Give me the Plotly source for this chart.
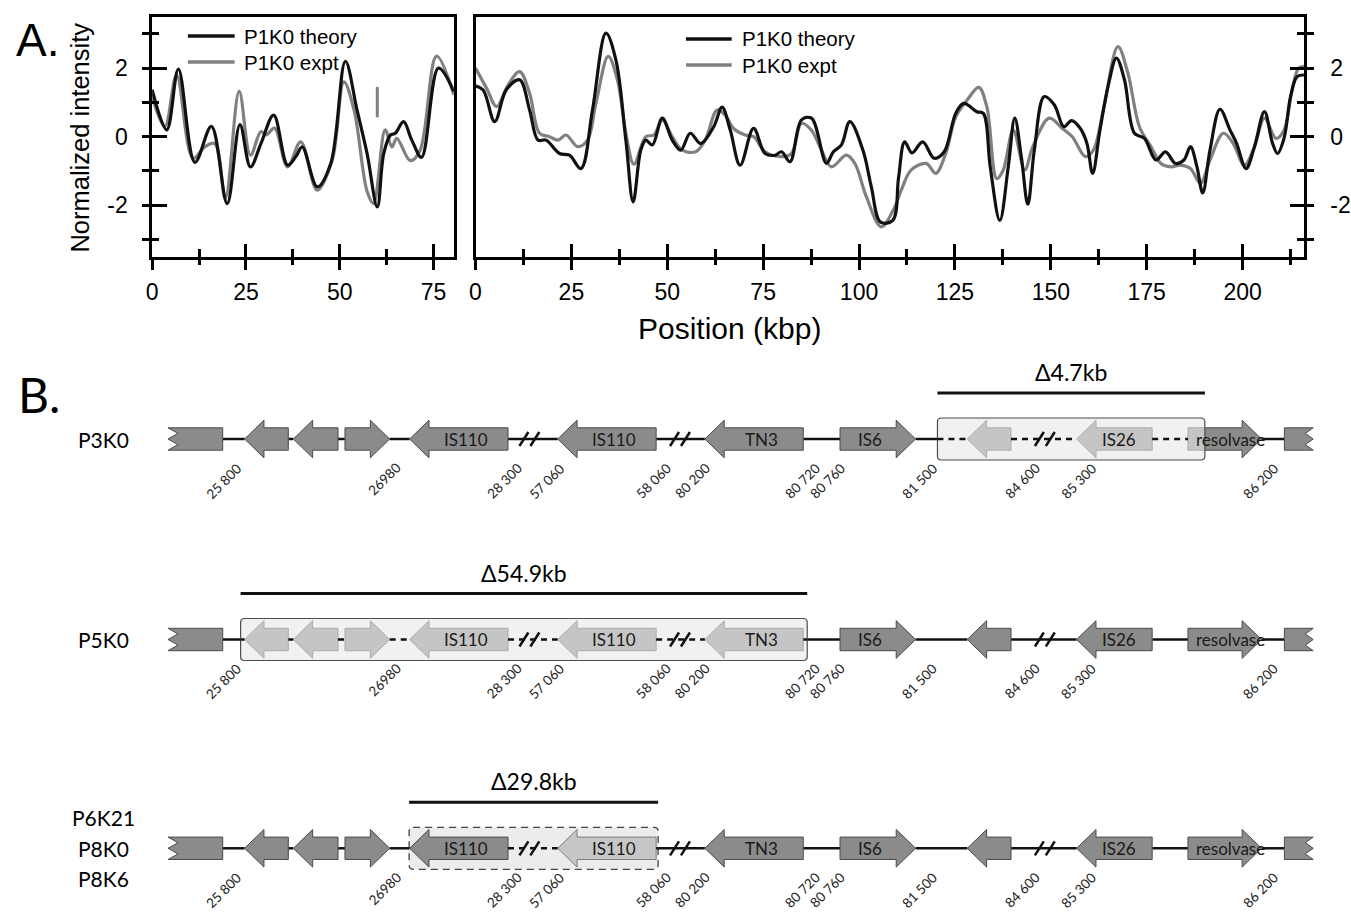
import plotly.graph_objects as go

W, H = 1351, 912

# ---------------- Panel A data (position in kbp, normalized intensity) ----------------
left_theory_x = [0, 3.9, 7.0, 11.4, 15.8, 20.0, 23.4, 26.2, 29.0, 32.4, 36.1, 38.3, 40.0, 44.0, 47.6,
                 51.5, 54.6, 57.3, 60.0, 61.7, 63.5, 64.8, 67.0, 69.2, 71.8, 76.3, 80.4]
left_theory_y = [1.37, 0.2, 1.97, -0.75, 0.3, -1.95, 0.35, -0.88, -0.2, 0.63, -0.83, -0.58, -0.3, -1.46, -0.78,
                 2.2, 0.78, -0.5, -2.05, -0.5, 0.05, 0.1, 0.44, -0.1, -0.6, 2.0, 1.32]

left_expt_x = [0, 3.4, 6.5, 10.9, 14.0, 16.7, 19.5, 23.2, 26.2, 29.0, 30.4, 32.6, 36.1, 39.6, 44.0,
               48.0, 51.1, 53.8, 57.3, 59.0, 62.1, 63.9, 65.2, 68.8, 71.4, 75.8, 80.4]
left_expt_y = [1.17, 0.3, 1.8, -0.63, -0.3, -0.2, -1.8, 1.32, -0.54, 0.15, 0.05, 0.25, -0.88, -0.15, -1.56,
               -0.68, 1.6, 0.78, -1.6, -1.95, 0.2, -0.3, -0.05, -0.7, -0.4, 2.35, 1.22]

right_theory_x = [0, 2, 5, 8, 11.5, 14.1, 16.3, 18.4, 21.9, 24.5, 27.5, 30.5, 34, 36.6, 39.2,
                  41.1, 43.1, 44.4, 46.1, 48.7, 51.3, 53.5, 56, 58.7, 62.1, 64.3, 66.4, 69, 72.5, 75.5,
                  78.1, 79.8, 82, 85, 87.6, 91.5, 93.3, 95.4, 97.6, 101, 103.2, 105.6, 108.8, 110.3, 111.9,
                  113.8, 116.6, 119.6, 122.2, 125.2, 127.3, 130.7, 132.4, 134.2, 136.7, 138.9, 140.6, 142.3, 144, 145.7,
                  148.3, 150.9, 153.4, 155.4, 157.7, 159.4, 160.9, 162.8, 165, 167.1, 169.2, 171.8, 174.4, 177.4, 179.9,
                  182.5, 184.7, 186.4, 188.1, 189.6, 191.5, 194.1, 196.7, 198.4, 200.9, 203.1, 205.7, 207.8, 209.1, 210.8,
                  212.5, 214.2, 216]
right_theory_y = [1.48, 1.36, 0.44, 1.36, 1.66, 0.78, -0.1, -0.1, -0.49, -0.54, -0.93, 0.78, 3.02, 2.24, -0.1,
                  -1.9, -0.39, -0.1, -0.24, 0.54, -0.1, -0.39, 0.1, -0.2, 0.29, 0.86, 0.2, -0.83, 0.24, -0.49,
                  -0.54, -0.44, -0.73, 0.49, 0.54, -0.78, -0.44, -0.24, 0.44, -0.39, -1.46, -2.49, -2.44, -1.2, -0.15,
                  -0.47, -0.15, -0.63, -0.44, 0.68, 0.97, 0.73, 0.68, -0.88, -2.44, -0.88, 0.54, -0.58, -1.97, -0.39,
                  1.17, 0.93, 0.29, 0.47, 0.24, -0.19, -1.07, 0.19, 1.51, 2.29, 1.66, 0.1, -0.05, -0.68, -0.44,
                  -0.78, -0.68, -0.29, -0.88, -1.64, -0.39, 0.8, 0.2, -0.19, -0.93, -0.29, 0.73, -0.19, -0.49, -0.05,
                  1.17, 1.75, 1.8]

right_expt_x = [0, 2.9, 5.5, 8.5, 11.5, 14.1, 16.7, 19.3, 21.5, 23.6, 26.6, 29.2, 31.4, 34.6, 37,
                39.2, 41.3, 44.4, 46.5, 48.7, 51.3, 53.9, 57.4, 59.9, 63, 65.1, 67.3, 70.3, 72.5, 75.5,
                79.8, 82.4, 85, 87.6, 90.2, 92.8, 96.7, 98.9, 101.9, 105.8, 109.3, 111, 113.6, 117.5, 120,
                122.6, 125.2, 128.2, 131.2, 133.3, 135.9, 137.6, 140.2, 143.2, 145.3, 149.6, 153, 155.6, 159, 161.1,
                163.7, 167.5, 170.1, 173.1, 176.1, 178.7, 181.3, 183.8, 186.4, 189, 191.5, 195, 197.5, 200.5, 203.1,
                205.7, 208.7, 210.8, 212.9, 214.6, 216]
right_expt_y = [2.0, 1.41, 0.88, 1.51, 1.9, 1.27, 0.1, 0, -0.1, 0.05, -0.29, -0.1, 0.97, 2.34, 1.66,
                0.1, -0.8, 0, 0.05, 0.49, 0, -0.39, -0.44, -0.1, 0.78, 0.63, 0.24, 0.05, 0, -0.44,
                -0.58, -0.49, 0.39, 0.19, -0.39, -0.88, -0.54, -0.78, -1.75, -2.63, -2.05, -1.56, -0.97, -0.78, -1.07,
                -0.49, 0.58, 1.07, 1.44, 0.88, -1.22, -0.97, 0.19, -0.97, -0.29, 0.54, 0.24, 0, -0.58, -0.39,
                0.78, 2.63, 1.85, 0.29, -0.29, -0.78, -0.88, -0.83, -0.93, -1.36, -0.68, 0.1, -0.19, -0.83, -0.29,
                0.54, -0.05, 0.19, 1.36, 2.0, 2.05]

mark_x = [60.0, 60.0]
mark_y = [0.57, 1.45]

series_names = ["P1K0 theory", "P1K0 expt"]
x_ticks_left = [0, 25, 50, 75]
y_ticks = [-2, 0, 2]
y_tick_text = ['-2', '0', '2']

# ---------------- Panel B data (schematic map units) ----------------
elem_start = [163, 240, 289, 341, 406, 555, 703, 839, 967, 1077, 1189, 1286]
elem_end = [218, 284, 334, 386, 505, 654, 802, 915, 1011, 1153, 1263, 1315]
elem_kind = ['cutL', 'L', 'L', 'R', 'L', 'L', 'L', 'R', 'L', 'L', 'R', 'cutR']
elem_label = ['', '', '', '', 'IS110', 'IS110', 'TN3', 'IS6', '', 'IS26', 'resolvase', '']
label_shift = [0, 0, 0, 0, -3, -3, -2, 2, 0, -5, 16, 0]

break_x = [526.5, 678, 1045]

coord_text = ['25 800', '26980', '28 300', '57 060', '58 060', '80 200',
              '80 720', '80 760', '81 500', '84 600', '85 300', '86 200']
coord_end = [241, 401, 523, 566, 673, 712, 823, 848, 941, 1044, 1101, 1284]

row_names = [['P3K0'], ['P5K0'], ['P6K21', 'P8K0', 'P8K6']]
row_center = [439, 639.5, 848.3]
del_start = [937, 236, 405.5]
del_end = [1206, 806, 656]
del_style = ['overlay', 'overlay', 'dashed']
del_text = ['Δ4.7kb', 'Δ54.9kb', 'Δ29.8kb']
row_light = [[], [], [5]]

# ---------------- figure ----------------
BLACK = '#111111'
GRAY = '#808080'
SANS = 'Liberation Sans, Arial, sans-serif'
MAP = 'Lato, Liberation Sans Narrow, sans-serif'


def px(x):
    return x / W


def py(y):
    return 1 - y / H


fig = go.Figure()

fig.add_trace(go.Scatter(x=left_expt_x, y=left_expt_y, mode='lines', name=series_names[1],
                         line=dict(color=GRAY, width=3.2, shape='spline', smoothing=1.0),
                         xaxis='x', yaxis='y', showlegend=False))
fig.add_trace(go.Scatter(x=left_theory_x, y=left_theory_y, mode='lines', name=series_names[0],
                         line=dict(color=BLACK, width=3.2, shape='spline', smoothing=1.0),
                         xaxis='x', yaxis='y', showlegend=False))
fig.add_trace(go.Scatter(x=mark_x, y=mark_y, mode='lines', line=dict(color=GRAY, width=3),
                         xaxis='x', yaxis='y', showlegend=False, hoverinfo='skip'))
fig.add_trace(go.Scatter(x=right_expt_x, y=right_expt_y, mode='lines', name=series_names[1],
                         line=dict(color=GRAY, width=3.2, shape='spline', smoothing=1.0),
                         xaxis='x2', yaxis='y2', showlegend=False))
fig.add_trace(go.Scatter(x=right_theory_x, y=right_theory_y, mode='lines', name=series_names[0],
                         line=dict(color=BLACK, width=3.2, shape='spline', smoothing=1.0),
                         xaxis='x2', yaxis='y2', showlegend=False))

# helper traces so overlay tick axes and schematic axes exist
for xa, ya in [('x4', 'y'), ('x', 'y5'), ('x6', 'y2'), ('x2', 'y7'), ('x3', 'y3')]:
    fig.add_trace(go.Scatter(x=[None], y=[None], xaxis=xa, yaxis=ya, showlegend=False, hoverinfo='skip'))

tickfont = dict(family=SANS, size=23, color='black')
base = dict(showgrid=False, zeroline=False, tickcolor='black', tickwidth=2.5)
y_dom = [py(256.7), py(16.7)]

layout_axes = dict(
    xaxis=dict(base, domain=[px(147), px(450.5)], range=[0, 80.4], anchor='y', showline=True,
               linecolor='black', linewidth=2.5, mirror=True, ticks='outside', ticklen=11,
               tickmode='array', tickvals=x_ticks_left, tickfont=tickfont, ticklabelstandoff=2,
               minor=dict(ticks='outside', tick0=0, dtick=12.5, ticklen=6, tickwidth=2.5, tickcolor='black')),
    xaxis4=dict(base, overlaying='x', anchor='y', range=[0, 80.4], ticks='inside', ticklen=13,
                tick0=0, dtick=25, showticklabels=False, showline=False,
                minor=dict(ticks='inside', tick0=0, dtick=12.5, ticklen=8, tickwidth=2.5, tickcolor='black')),
    yaxis=dict(base, domain=y_dom, range=[-3.5, 3.5], anchor='x', showline=True, linecolor='black',
               linewidth=2.5, mirror=True, ticks='outside', ticklen=7, tickmode='array', tickvals=y_ticks,
               ticktext=y_tick_text, tickfont=tickfont, ticklabelstandoff=10,
               minor=dict(ticks='outside', tick0=0, dtick=1, ticklen=7, tickwidth=2.5, tickcolor='black')),
    yaxis5=dict(base, overlaying='y', anchor='x', side='left', range=[-3.5, 3.5], ticks='inside',
                ticklen=15, tick0=0, dtick=2, showticklabels=False, showline=False,
                minor=dict(ticks='inside', tick0=0, dtick=1, ticklen=7, tickwidth=2.5, tickcolor='black')),
    xaxis2=dict(base, domain=[px(472.3), px(1305.7)], range=[0, 216], anchor='y2', showline=True,
                linecolor='black', linewidth=2.5, mirror=True, ticks='outside', ticklen=11,
                tick0=0, dtick=25, tickfont=tickfont, ticklabelstandoff=2,
                minor=dict(ticks='outside', tick0=0, dtick=12.5, ticklen=6, tickwidth=2.5, tickcolor='black')),
    xaxis6=dict(base, overlaying='x2', anchor='y2', range=[0, 216], ticks='inside', ticklen=13,
                tick0=0, dtick=25, showticklabels=False, showline=False,
                minor=dict(ticks='inside', tick0=0, dtick=12.5, ticklen=8, tickwidth=2.5, tickcolor='black')),
    yaxis2=dict(base, domain=y_dom, range=[-3.5, 3.5], anchor='x2', side='right', showline=True,
                linecolor='black', linewidth=2.5, mirror=True, ticks='outside', ticklen=7,
                tickmode='array', tickvals=y_ticks, ticktext=y_tick_text, tickfont=tickfont,
                ticklabelstandoff=12,
                minor=dict(ticks='outside', tick0=0, dtick=1, ticklen=7, tickwidth=2.5, tickcolor='black')),
    yaxis7=dict(base, overlaying='y2', anchor='x2', side='right', range=[-3.5, 3.5], ticks='inside',
                ticklen=14, tick0=0, dtick=2, showticklabels=False, showline=False,
                minor=dict(ticks='inside', tick0=0, dtick=1, ticklen=7, tickwidth=2.5, tickcolor='black')),
    xaxis3=dict(domain=[0, 1], range=[0, W], anchor='y3', visible=False, fixedrange=True),
    yaxis3=dict(domain=[0, 1], range=[H, 0], anchor='x3', visible=False, fixedrange=True),
)

shapes = []
annotations = []

# ---- panel A decorations (legends, titles) ----
for (lx0, lx1, ly0, tx), in [((183, 230, 36, 237),), ((684, 730, 39, 738),)]:
    for k, (col, nm) in enumerate([(BLACK, series_names[0]), (GRAY, series_names[1])]):
        yy = ly0 + 26 * k
        shapes.append(dict(type='line', xref='paper', yref='paper', x0=px(lx0), x1=px(lx1),
                           y0=py(yy), y1=py(yy), line=dict(color=col, width=3.5)))
        annotations.append(dict(xref='paper', yref='paper', x=px(tx), y=py(yy), text=nm, showarrow=False,
                                xanchor='left', yanchor='middle', font=dict(family=SANS, size=20.5, color='black')))

annotations += [
    dict(xref='paper', yref='paper', x=px(8), y=py(40), text='A.', showarrow=False, xanchor='left',
         yanchor='middle', font=dict(family=SANS, size=46, color='black')),
    dict(xref='paper', yref='paper', x=px(74), y=py(138), text='Normalized intensity', showarrow=False,
         textangle=-90, xanchor='center', yanchor='middle', font=dict(family=SANS, size=25.5, color='black')),
    dict(xref='paper', yref='paper', x=px(728), y=py(328), text='Position (kbp)', showarrow=False,
         xanchor='center', yanchor='middle', font=dict(family=SANS, size=30, color='black')),
    dict(xref='paper', yref='paper', x=px(10), y=py(394), text='B.', showarrow=False, xanchor='left',
         yanchor='middle', font=dict(family=MAP, size=48, color='black')),
]

# ---- panel B schematic ----
HH, BH, HL = 18.8, 11.2, 19.5
DARK_FILL, DARK_LINE = '#8b8b8b', '#4a4a4a'
LIGHT_FILL, LIGHT_LINE = '#c6c6c6', '#7d7d7d'


def arrow_path(x0, x1, kind, c):
    hl = min(HL, (x1 - x0) * 0.6)
    if kind == 'L':
        pts = [(x0, c), (x0 + hl, c - HH), (x0 + hl, c - BH), (x1, c - BH), (x1, c + BH),
               (x0 + hl, c + BH), (x0 + hl, c + HH)]
    elif kind == 'R':
        pts = [(x1, c), (x1 - hl, c - HH), (x1 - hl, c - BH), (x0, c - BH), (x0, c + BH),
               (x1 - hl, c + BH), (x1 - hl, c + HH)]
    elif kind == 'cutL':
        pts = [(x0, c - BH), (x1, c - BH), (x1, c + BH), (x0, c + BH), (x0 + 10, c + BH / 2),
               (x0, c), (x0 + 10, c - BH / 2)]
    else:
        pts = [(x1, c - BH), (x0, c - BH), (x0, c + BH), (x1, c + BH), (x1 - 8, c + BH / 2),
               (x1, c), (x1 - 8, c - BH / 2)]
    return 'M ' + ' L '.join(f'{x:.2f},{y:.2f}' for x, y in pts) + ' Z'


def rounded_rect(x0, x1, y0, y1, r=4):
    return (f'M {x0 + r},{y0} L {x1 - r},{y0} Q {x1},{y0} {x1},{y0 + r} L {x1},{y1 - r} '
            f'Q {x1},{y1} {x1 - r},{y1} L {x0 + r},{y1} Q {x0},{y1} {x0},{y1 - r} '
            f'L {x0},{y0 + r} Q {x0},{y0} {x0 + r},{y0} Z')


def seg(x0, x1, y, dash=None, width=2.5):
    ln = dict(color=BLACK, width=width)
    if dash:
        ln['dash'] = dash
    return dict(type='line', xref='x3', yref='y3', x0=x0, x1=x1, y0=y, y1=y, line=ln, layer='above')


n = len(elem_start)
for r in range(3):
    c = row_center[r]
    b0, b1 = del_start[r], del_end[r]
    box_path = rounded_rect(b0, b1, c - 21, c + 21)
    row_shapes = []
    if del_style[r] == 'dashed':
        row_shapes.append(dict(type='path', xref='x3', yref='y3', path=box_path, fillcolor='#ececec',
                               line=dict(color='#444444', width=1.3, dash='7px,5px')))
    solid, dashed = [], []
    for i in range(n - 1):
        a, b = elem_end[i], elem_start[i + 1]
        if b <= a:
            continue
        lo, hi = max(a, b0), min(b, b1)
        if lo < hi:
            dashed.append((lo, hi))
            if a < lo:
                solid.append((a, lo))
            if hi < b:
                solid.append((hi, b))
        else:
            solid.append((a, b))
    for a, b in solid:
        row_shapes.append(seg(a, b, c))
    for i in range(n):
        light = i in row_light[r]
        row_shapes.append(dict(type='path', xref='x3', yref='y3',
                               path=arrow_path(elem_start[i], elem_end[i], elem_kind[i], c),
                               fillcolor=LIGHT_FILL if light else DARK_FILL,
                               line=dict(color=LIGHT_LINE if light else DARK_LINE, width=1)))
    if del_style[r] == 'overlay':
        row_shapes.append(dict(type='path', xref='x3', yref='y3', path=box_path,
                               fillcolor='rgba(232,232,232,0.62)', line=dict(color='#4d4d4d', width=1.2)))
    for a, b in dashed:
        row_shapes.append(seg(a, b, c, dash='6px,5px'))
    for bx in break_x:
        for s in (bx - 5.5, bx + 5.5):
            row_shapes.append(dict(type='line', xref='x3', yref='y3', x0=s - 4.5, x1=s + 4.5,
                                   y0=c + 7, y1=c - 7, line=dict(color=BLACK, width=2.5)))
    # deletion bar
    row_shapes.append(seg(b0, b1, c - 46, width=3))
    shapes += row_shapes

    annotations.append(dict(xref='x3', yref='y3', x=(b0 + b1) / 2, y=c - 67, text=del_text[r],
                            showarrow=False, xanchor='center', yanchor='middle',
                            font=dict(family=MAP, size=23, color='black')))
    # element labels
    for i in range(n):
        if not elem_label[i]:
            continue
        x0, x1 = elem_start[i], elem_end[i]
        if elem_kind[i] == 'L':
            cx = (x0 + HL + x1) / 2
        else:
            cx = (x0 + x1 - HL) / 2
        annotations.append(dict(xref='x3', yref='y3', x=cx + label_shift[i], y=c, text=elem_label[i],
                                showarrow=False, xanchor='center', yanchor='middle',
                                font=dict(family=MAP, size=17, color='#1a1a1a')))
    # coordinate labels
    for t, xe in zip(coord_text, coord_end):
        annotations.append(dict(xref='x3', yref='y3', x=xe + 2, y=c + 18, text=t, showarrow=False,
                                textangle=-45, xanchor='right', yanchor='top',
                                font=dict(family=MAP, size=13.5, color='#222222')))
    # row names
    names = row_names[r]
    for k, nm in enumerate(names):
        yy = c + (k - (len(names) - 1) / 2) * 30.5
        annotations.append(dict(xref='x3', yref='y3', x=98, y=yy, text=nm, showarrow=False,
                                xanchor='center', yanchor='middle',
                                font=dict(family=MAP, size=21, color='black')))

fig.update_layout(
    width=W, height=H,
    margin=dict(l=0, r=0, t=0, b=0),
    paper_bgcolor='white', plot_bgcolor='rgba(0,0,0,0)',
    showlegend=False,
    shapes=shapes,
    annotations=annotations,
    **layout_axes,
)

fig.write_html("out.html", config=dict(displayModeBar=False),
               post_script="document.body.style.margin='0px';")
